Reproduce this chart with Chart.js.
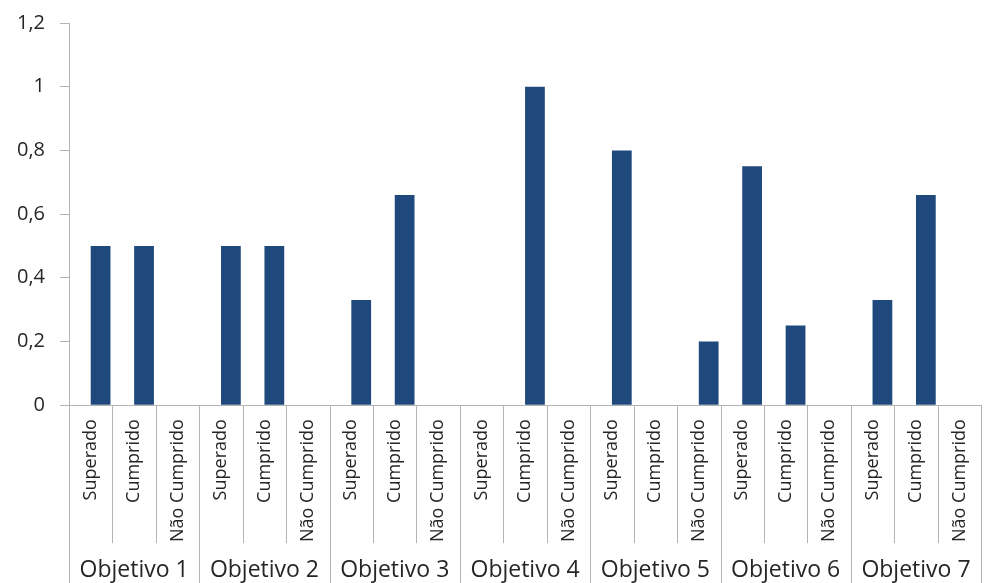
<!DOCTYPE html>
<html>
<head>
<meta charset="utf-8">
<script src="https://cdn.jsdelivr.net/npm/chart.js@4.4.1/dist/chart.umd.min.js"></script>
<style>
  html, body { margin: 0; padding: 0; background: #ffffff; overflow: hidden; }
  #wrap { width: 995px; height: 583px; }
</style>
</head>
<body>
<div id="wrap"><canvas id="chart" width="995" height="583"></canvas></div>
<script>
// Objectives and the three status columns inside each one
const groups = ['Objetivo 1', 'Objetivo 2', 'Objetivo 3', 'Objetivo 4', 'Objetivo 5', 'Objetivo 6', 'Objetivo 7'];
const statuses = ['Superado', 'Cumprido', 'Não Cumprido'];

// Share of goals per status, objective by objective
const obj1 = [0.5, 0.5, 0];
const obj2 = [0.5, 0.5, 0];
const obj3 = [0.33, 0.66, 0];
const obj4 = [0, 1, 0];
const obj5 = [0.8, 0, 0.2];
const obj6 = [0.75, 0.25, 0];
const obj7 = [0.33, 0.66, 0];

// Empty companion series (keeps the visible bar in the right half of each slot)
const emptySeries = new Array(groups.length * statuses.length).fill(null);

const yTickLabels = ['0', '0,2', '0,4', '0,6', '0,8', '1', '1,2'];

const categories = [];
groups.forEach(() => statuses.forEach(s => categories.push(s)));
const values = [].concat(obj1, obj2, obj3, obj4, obj5, obj6, obj7);

const FONT = "'Open Sans', 'DejaVu Sans', sans-serif";
const TEXT = '#262626';
const LINE = '#b4b4b4';

// Separator lines under the axis and the objective names centred under their columns
const separators = {
  id: 'categorySeparators',
  afterDraw(chart) {
    const { ctx, chartArea } = chart;
    const x = chart.scales.x;
    const n = categories.length;
    const step = x.getPixelForValue(1) - x.getPixelForValue(0);
    ctx.save();
    ctx.strokeStyle = LINE;
    ctx.lineWidth = 1;
    for (let k = 0; k <= n; k++) {
      const px = Math.round(x.getPixelForValue(k) - step / 2) + 0.5;
      const isGroupEdge = k % statuses.length === 0;
      const yEnd = isGroupEdge ? chart.height : chartArea.bottom + 138;
      ctx.beginPath();
      ctx.moveTo(px, chartArea.bottom);
      ctx.lineTo(px, yEnd);
      ctx.stroke();
    }
    ctx.fillStyle = TEXT;
    ctx.font = '23px ' + FONT;
    ctx.textAlign = 'center';
    ctx.textBaseline = 'middle';
    groups.forEach((g, gi) => {
      const first = gi * statuses.length;
      const last = first + statuses.length - 1;
      const cx = (x.getPixelForValue(first) + x.getPixelForValue(last)) / 2;
      ctx.fillText(g, cx, chart.height - 13);
    });
    ctx.restore();
  }
};

new Chart(document.getElementById('chart'), {
  type: 'bar',
  data: {
    labels: categories,
    datasets: [
      { label: 'Série 1', data: emptySeries, backgroundColor: '#1F497D', borderWidth: 0 },
      { label: 'Série 2', data: values, backgroundColor: '#1F497D', borderWidth: 0 }
    ]
  },
  options: {
    responsive: false,
    animation: false,
    events: [],
    layout: { padding: { top: 23, right: 0, bottom: 27, left: 0 } },
    plugins: {
      legend: { display: false },
      tooltip: { enabled: false },
      title: { display: false }
    },
    datasets: {
      bar: { categoryPercentage: 0.91, barPercentage: 1 }
    },
    scales: {
      x: {
        grid: { display: false, drawTicks: false },
        border: { display: true, color: LINE, width: 1 },
        ticks: {
          autoSkip: false,
          minRotation: 90,
          maxRotation: 90,
          padding: 14,
          color: TEXT,
          font: { family: FONT, size: 18 }
        }
      },
      y: {
        min: 0,
        max: 1.2,
        afterFit(scale) {
          scale.width = 69;
          scale.paddingTop = 0;
          scale.paddingBottom = 0;
        },
        grid: { drawOnChartArea: false, drawTicks: true, tickLength: 9, color: LINE },
        border: { display: true, color: LINE, width: 1 },
        ticks: {
          stepSize: 0.2,
          padding: 15,
          color: TEXT,
          font: { family: FONT, size: 20 },
          callback: (v, i) => yTickLabels[i]
        }
      }
    }
  },
  plugins: [separators]
});
</script>
</body>
</html>
